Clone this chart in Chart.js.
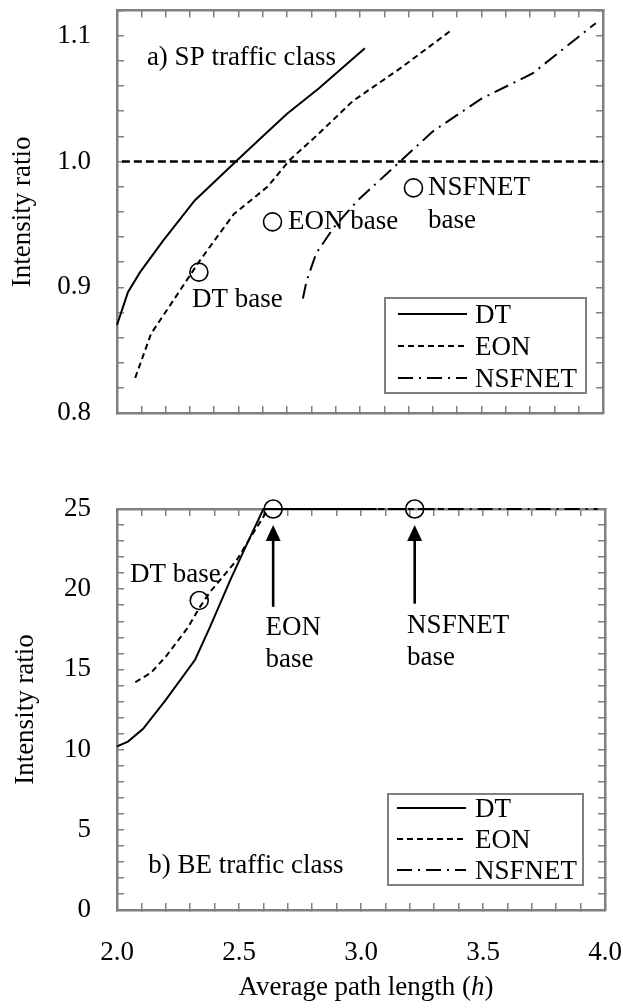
<!DOCTYPE html>
<html>
<head>
<meta charset="utf-8">
<title>Intensity ratio vs average path length</title>
<script src="https://cdn.jsdelivr.net/npm/chart.js@4.4.1/dist/chart.umd.min.js"></script>
<style>
  html, body { margin: 0; padding: 0; background: #fff; }
  #wrap { position: relative; width: 623px; height: 1008px; overflow: hidden; }
  .panel { position: absolute; left: 0; width: 623px; }
  #panelSP { top: 0; height: 470px; }
  #panelBE { top: 480px; height: 528px; }
</style>
</head>
<body>
<div id="wrap">
  <div class="panel" id="panelSP"><canvas id="chartSP"></canvas></div>
  <div class="panel" id="panelBE"><canvas id="chartBE"></canvas></div>
</div>
<script>
// ---------- a) SP traffic class: average path length h -> intensity ratio ----------
const spDtH  = [2.00, 2.045, 2.095, 2.19, 2.32, 2.50, 2.60, 2.70, 2.83, 3.02];
const spDtR  = [0.870, 0.896, 0.912, 0.937, 0.969, 1.002, 1.020, 1.038, 1.058, 1.090];
const spEonH = [2.075, 2.14, 2.23, 2.34, 2.48, 2.62, 2.71, 2.835, 2.97, 3.165, 3.38];
const spEonR = [0.828, 0.863, 0.889, 0.921, 0.958, 0.980, 1.001, 1.023, 1.048, 1.074, 1.105];
const spNsfH = [2.765, 2.78, 2.82, 2.89, 2.99, 3.165, 3.30, 3.50, 3.71, 3.97];
const spNsfR = [0.891, 0.905, 0.927, 0.947, 0.969, 1.000, 1.024, 1.050, 1.070, 1.110];
const spRefH = [2.02, 4.00];
const spRefR = [1.0, 1.0];
// base topologies (DT, EON, NSFNET)
const spBaseH = [2.337, 2.640, 3.220];
const spBaseR = [0.912, 0.952, 0.979];

// ---------- b) BE traffic class ----------
const beDtH  = [2.00, 2.045, 2.107, 2.20, 2.32, 2.38, 2.465, 2.535, 2.60, 3.02];
const beDtR  = [10.2, 10.5, 11.3, 13.1, 15.6, 17.6, 20.6, 22.9, 25.0, 25.0];
const beEonH = [2.075, 2.14, 2.20, 2.29, 2.34, 2.38, 2.49, 2.55, 2.62, 3.38];
const beEonR = [14.2, 14.8, 15.8, 17.6, 18.9, 19.8, 21.8, 23.3, 25.0, 25.0];
const beNsfH = [2.765, 3.97];
const beNsfR = [25.0, 25.0];
const beBaseH = [2.337, 2.640, 3.220];
const beBaseR = [19.3, 25.0, 25.0];
// arrows pointing at the EON and NSFNET base markers
const beArrowTail = [18.9, 19.1];
const beArrowTip  = [24.0, 24.0];

// ---------- axis ticks ----------
const xTickStep = 0.1, xLabelStep = 0.5;
const spTickStep = 0.02, spLabelStep = 0.1;
const beTickStep = 1, beLabelStep = 5;

const FONT = '"Liberation Serif", "Times New Roman", Times, serif';
const FS = 27;
const GRAY = '#808080';
Chart.defaults.font.family = FONT;
Chart.defaults.color = '#000';

const pts = (hs, rs) => hs.map((h, i) => ({ x: h, y: rs[i] }));
const isMajor = (v, step) => { const q = v / step; return Math.abs(q - Math.round(q)) < 1e-6; };

const STYLE = {
  DT:     { borderDash: [] },
  EON:    { borderDash: [6, 4] },
  NSFNET: { borderDash: [15, 6, 2, 6] }
};

function seriesSet(dtH, dtR, eonH, eonR, nsfH, nsfR) {
  const common = { borderColor: '#000', borderWidth: 2, pointRadius: 0, tension: 0,
                   fill: false, clip: false, xAxisID: 'x', yAxisID: 'y' };
  return [
    Object.assign({ label: 'DT', data: pts(dtH, dtR) }, common, STYLE.DT),
    Object.assign({ label: 'EON', data: pts(eonH, eonR) }, common, STYLE.EON),
    Object.assign({ label: 'NSFNET', data: pts(nsfH, nsfR) }, common, STYLE.NSFNET)
  ];
}

function baseMarkers(hs, rs) {
  return { label: 'base', data: pts(hs, rs), showLine: false, pointRadius: 9, pointHoverRadius: 9,
           pointBorderWidth: 1.6, pointBorderColor: '#000', pointBackgroundColor: 'rgba(0,0,0,0)',
           clip: false, xAxisID: 'x', yAxisID: 'y' };
}

// keep the plot frame fixed: the tick labels may overhang the frame without shrinking it
function fixed(size) {
  return s => {
    if (s.isHorizontal()) s.height = size; else s.width = size;
    s.paddingTop = 0; s.paddingBottom = 0; s.paddingLeft = 0; s.paddingRight = 0;
  };
}

function scalesFor(o) {
  const inward = { drawOnChartArea: false, drawTicks: true, tickLength: -7, color: GRAY, lineWidth: 1.5 };
  const frame = { display: true, color: GRAY, width: 2.5 };
  const tickFont = { family: FONT, size: FS };
  const blank = () => '';
  return {
    x: { type: 'linear', position: 'bottom', min: 2, max: 4, grid: inward, border: frame,
         ticks: { stepSize: xTickStep, autoSkip: false, maxRotation: 0, padding: 34, color: '#000', font: tickFont,
                  callback: v => (o.xLabels && isMajor(v, xLabelStep)) ? v.toFixed(1) : '' },
         afterFit: fixed(o.xHeight) },
    xTop: { type: 'linear', position: 'top', min: 2, max: 4, grid: inward, border: frame,
            ticks: { stepSize: xTickStep, autoSkip: false, padding: 0, callback: blank },
            afterFit: fixed(0) },
    y: { type: 'linear', position: 'left', min: o.yMin, max: o.yMax, grid: inward, border: frame,
         ticks: { stepSize: o.yStep, autoSkip: false, padding: 33, color: '#000', font: tickFont,
                  callback: v => isMajor(v, o.yLabelStep) ? v.toFixed(o.yDigits) : '' },
         title: { display: true, text: 'Intensity ratio', color: '#000', font: { family: FONT, size: FS },
                  padding: { top: o.titlePad, bottom: 0 } },
         afterFit: fixed(117) },
    yRight: { type: 'linear', position: 'right', min: o.yMin, max: o.yMax, grid: inward, border: frame,
              ticks: { stepSize: o.yStep, autoSkip: false, padding: 0, callback: blank },
              afterFit: fixed(0) }
  };
}

function drawArrow(ctx, x, yTail, yTip) {
  const head = 16, half = 7.5;
  ctx.save();
  ctx.setLineDash([]);
  ctx.strokeStyle = '#000'; ctx.fillStyle = '#000'; ctx.lineWidth = 2.6;
  ctx.beginPath(); ctx.moveTo(x, yTail); ctx.lineTo(x, yTip + head - 2); ctx.stroke();
  ctx.beginPath(); ctx.moveTo(x, yTip); ctx.lineTo(x - half, yTip + head); ctx.lineTo(x + half, yTip + head);
  ctx.closePath(); ctx.fill();
  ctx.restore();
}

function drawLegend(chart, L) {
  const { ctx, chartArea: ca } = chart;
  const bx = ca.right - L.right - L.w, by = ca.bottom - L.bottom - L.h;
  ctx.save();
  ctx.fillStyle = '#fff';
  ctx.fillRect(bx, by, L.w, L.h);
  ctx.setLineDash([]);
  ctx.strokeStyle = GRAY; ctx.lineWidth = 2;
  ctx.strokeRect(bx, by, L.w, L.h);
  ctx.font = FS + 'px ' + FONT;
  ctx.textBaseline = 'middle'; ctx.textAlign = 'left';
  chart.data.datasets.slice(0, 3).forEach((ds, i) => {
    const yy = by + L.first + i * L.gap;
    ctx.strokeStyle = '#000'; ctx.lineWidth = ds.borderWidth;
    ctx.setLineDash(ds.borderDash || []);
    ctx.beginPath(); ctx.moveTo(bx + L.lineX0, yy); ctx.lineTo(bx + L.lineX1, yy); ctx.stroke();
    ctx.setLineDash([]);
    ctx.fillStyle = '#000';
    ctx.fillText(ds.label, bx + L.textX, yy + 2);
  });
  ctx.restore();
}

function annotations(cfg) {
  return {
    id: 'annotations',
    afterDatasetsDraw(chart) {
      const { ctx, scales: { x, y } } = chart;
      ctx.save();
      ctx.fillStyle = '#000';
      ctx.font = FS + 'px ' + FONT;
      ctx.textBaseline = 'alphabetic'; ctx.textAlign = 'left';
      cfg.texts.forEach(t => ctx.fillText(t.text, x.getPixelForValue(t.h), y.getPixelForValue(t.r)));
      (cfg.arrows || []).forEach(a => drawArrow(ctx, x.getPixelForValue(a.h),
                                               y.getPixelForValue(a.tail), y.getPixelForValue(a.tip)));
      ctx.restore();
      drawLegend(chart, cfg.legend);
      if (cfg.xTitle) {
        const parts = [['Average path length (', ''], ['h', 'italic '], [')', '']];
        ctx.save();
        ctx.fillStyle = '#000'; ctx.textBaseline = 'alphabetic'; ctx.textAlign = 'left';
        let total = 0;
        const widths = parts.map(p => { ctx.font = p[1] + FS + 'px ' + FONT; const w = ctx.measureText(p[0]).width; total += w; return w; });
        const ca = chart.chartArea;
        let cx = (ca.left + ca.right) / 2 + 5 - total / 2;
        const yb = chart.height - 13;
        parts.forEach((p, i) => { ctx.font = p[1] + FS + 'px ' + FONT; ctx.fillText(p[0], cx, yb); cx += widths[i]; });
        ctx.restore();
      }
    }
  };
}

const baseOptions = (scales, pad) => ({
  responsive: true, maintainAspectRatio: false, animation: false, events: [],
  layout: { padding: pad },
  plugins: { legend: { display: false }, tooltip: { enabled: false } },
  scales
});

// ---------- a) SP ----------
const spSets = seriesSet(spDtH, spDtR, spEonH, spEonR, spNsfH, spNsfR);
spSets.push({ label: 'ratio 1', data: pts(spRefH, spRefR), borderColor: '#000', borderWidth: 2.5,
              borderDash: [8, 4], pointRadius: 0, tension: 0, clip: false, xAxisID: 'x', yAxisID: 'y' });
spSets.push(baseMarkers(spBaseH, spBaseR));

new Chart(document.getElementById('chartSP'), {
  type: 'line',
  data: { datasets: spSets },
  options: baseOptions(
    scalesFor({ yMin: 0.8, yMax: 1.12, yStep: spTickStep, yLabelStep: spLabelStep, yDigits: 1,
                xLabels: false, xHeight: 57, titlePad: 7 }),
    { top: 9, right: 20, bottom: 0, left: 0 }),
  plugins: [annotations({
    texts: [
      { text: 'a) SP traffic class', h: 2.123, r: 1.077 },
      { text: 'DT base', h: 2.309, r: 0.884 },
      { text: 'EON base', h: 2.704, r: 0.946 },
      { text: 'NSFNET', h: 3.280, r: 0.973 },
      { text: 'base', h: 3.280, r: 0.947 }
    ],
    legend: { right: 17, bottom: 20, w: 201, h: 95, first: 16, gap: 32, lineX0: 13, lineX1: 82, textX: 90 }
  })]
});

// ---------- b) BE ----------
const beSets = seriesSet(beDtH, beDtR, beEonH, beEonR, beNsfH, beNsfR);
beSets.push(baseMarkers(beBaseH, beBaseR));

new Chart(document.getElementById('chartBE'), {
  type: 'line',
  data: { datasets: beSets },
  options: baseOptions(
    scalesFor({ yMin: 0, yMax: 25, yStep: beTickStep, yLabelStep: beLabelStep, yDigits: 0,
                xLabels: true, xHeight: 98, titlePad: 10 }),
    { top: 29, right: 18, bottom: 0, left: 0 }),
  plugins: [annotations({
    texts: [
      { text: 'DT base', h: 2.053, r: 20.45 },
      { text: 'EON', h: 2.609, r: 17.14 },
      { text: 'base', h: 2.609, r: 15.15 },
      { text: 'NSFNET', h: 3.189, r: 17.27 },
      { text: 'base', h: 3.189, r: 15.27 },
      { text: 'b) BE traffic class', h: 2.128, r: 2.31 }
    ],
    arrows: [
      { h: beBaseH[1], tail: beArrowTail[0], tip: beArrowTip[0] },
      { h: beBaseH[2], tail: beArrowTail[1], tip: beArrowTip[1] }
    ],
    legend: { right: 22, bottom: 25, w: 195, h: 91, first: 14, gap: 31, lineX0: 9, lineX1: 78, textX: 87 },
    xTitle: true
  })]
});
</script>
</body>
</html>
